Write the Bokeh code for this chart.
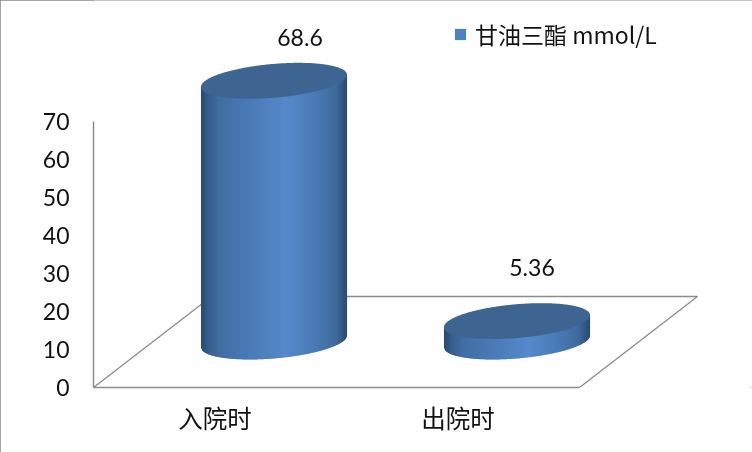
import numpy as np
from bokeh.plotting import figure
from bokeh.embed import file_html
from bokeh.resources import INLINE
from bokeh.models import (ColumnDataSource, FixedTicker, Legend, LegendItem, Range1d, InlineStyleSheet)
from bokeh.core.properties import value

categories = ["入院时", "出院时"]
values = [68.6, 5.36]
value_labels = ["68.6", "5.36"]
y_ticks = [0, 10, 20, 30, 40, 50, 60, 70]
series_name = "甘油三酯 mmol/L"

W, H = 752, 452
LEFT, BOTTOM = 93, 65          # frame edges
PX_X = 243.0                   # px per category
PX_Y = 3.8                     # px per value unit
CAT0 = 214.5                   # px of first category on the front edge
DX, DY = 118.0, 91.0           # floor depth in px
CJK = "Noto Sans CJK SC"
LATIN = "Lato"
GREY = "#8c8c8c"

p = figure(width=W, height=H, output_backend="svg", toolbar_location=None,
           x_range=Range1d((LEFT - CAT0) / PX_X, (W - CAT0) / PX_X),
           y_range=Range1d(0, (H - BOTTOM) / PX_Y),
           min_border_left=LEFT, min_border_right=0, min_border_top=0, min_border_bottom=BOTTOM,
           outline_line_color=None, background_fill_color="white", border_fill_color="white")
p.stylesheets = [InlineStyleSheet(css=":host{position:fixed !important;left:0 !important;top:0 !important;"
                                      "outline:2.5px solid #868686;outline-offset:-2.5px;}")]
p.grid.visible = False

# axes
ya = p.yaxis[0]
ya.ticker = FixedTicker(ticks=y_ticks)
ya.bounds = (min(y_ticks), max(y_ticks))
ya.axis_line_color = GREY
ya.axis_line_width = 1.5
ya.major_tick_line_color = None
ya.minor_tick_line_color = None
ya.major_label_standoff = 18
ya.major_label_text_font = LATIN
ya.major_label_text_font_size = "23px"
ya.major_label_text_color = "#111111"

xa = p.xaxis[0]
xa.ticker = FixedTicker(ticks=list(range(len(categories))))
xa.major_label_overrides = {i: c for i, c in enumerate(categories)}
xa.bounds = (-0.5, len(categories) - 0.5)
xa.axis_line_color = GREY
xa.axis_line_width = 1.5
xa.major_tick_line_color = None
xa.minor_tick_line_color = None
xa.major_label_standoff = 6
xa.major_label_text_font = CJK
xa.major_label_text_font_size = "24.5px"
xa.major_label_text_color = "#111111"

# floor
n = len(categories)
dxu, dyu = DX / PX_X, DY / PX_Y
p.line([-0.5, -0.5 + dxu, n - 0.5 + dxu, n - 0.5], [0, dyu, dyu, 0], line_color=GREY, line_width=1.3)

# tilted ellipse outline in px offsets from its centre
A, B, TH = 73.3, 16.9, np.radians(4.96)
t = np.linspace(0, 2 * np.pi, 361)[:-1]
ex = A * np.cos(t) * np.cos(TH) - B * np.sin(t) * np.sin(TH)
ey = A * np.cos(t) * np.sin(TH) + B * np.sin(t) * np.cos(TH)
i_r, i_l = int(np.argmax(ex)), int(np.argmin(ex))
half_w, slope = ex[i_r], ey[i_r] / ex[i_r]
end = i_r if i_r > i_l else i_r + 360
order = np.arange(i_l, end + 1) % 360
lx, ly = ex[order], ey[order]

stops_t = [0, 0.05, 0.12, 0.32, 0.58, 0.78, 0.92, 1]
stops_c = np.array([[0x2c, 0x4b, 0x72], [0x38, 0x5f, 0x8d], [0x41, 0x6d, 0xa3], [0x4b, 0x7b, 0xb6],
                    [0x57, 0x89, 0xcc], [0x4a, 0x7b, 0xb6], [0x3f, 0x6a, 0x9c], [0x2b, 0x48, 0x6c]], float)

def shade(u):
    r, g, b = [int(np.interp(u, stops_t, stops_c[:, k])) for k in range(3)]
    return f"#{r:02x}{g:02x}{b:02x}"

cx0 = DX / 2 / PX_X
cy0 = (DY / 2 + 0.5) / PX_Y
edges = np.arange(-half_w, half_w + 1, 1.0)
for i, v in enumerate(values):
    cx, xs, ys, cols = i + cx0, [], [], []
    for a, b in zip(edges[:-1], edges[1:]):
        b2 = min(b + 0.6, half_w)
        la, lb = np.interp([a, b2], lx, ly)
        xs.append([cx + a / PX_X, cx + b2 / PX_X, cx + b2 / PX_X, cx + a / PX_X])
        ys.append([cy0 + v + a * slope / PX_Y, cy0 + v + b2 * slope / PX_Y, cy0 + lb / PX_Y, cy0 + la / PX_Y])
        cols.append(shade((a + half_w) / (2 * half_w)))
    p.patches(xs, ys, fill_color=cols, line_color=None)
    p.patch(cx + ex / PX_X, cy0 + v + ey / PX_Y, fill_color="#3e6592", line_color=None)

# value labels
src = ColumnDataSource(dict(x=[i + cx0 for i in range(n)], y=[cy0 + v for v in values], t=value_labels,
                            xo=[26, 15], yo=[-43, -54]))
p.text("x", "y", text="t", x_offset="xo", y_offset="yo", source=src, text_align="center", text_baseline="middle",
       text_font=value(LATIN), text_font_size="23px", text_color="#111111")

# legend
dummy = p.quad(left=[np.nan], right=[np.nan], top=[np.nan], bottom=[np.nan], fill_color="#4f81bd", line_color=None)
leg = Legend(items=[LegendItem(label=value(series_name), renderers=[dummy])], location=(360, 336),
             border_line_color=None, background_fill_alpha=0, padding=0, margin=0,
             glyph_width=14, glyph_height=14, label_standoff=8,
             label_text_font=CJK, label_text_font_size="23px", label_text_color="#111111")
p.add_layout(leg, "center")

open("out.html", "w").write(file_html(p, INLINE))
